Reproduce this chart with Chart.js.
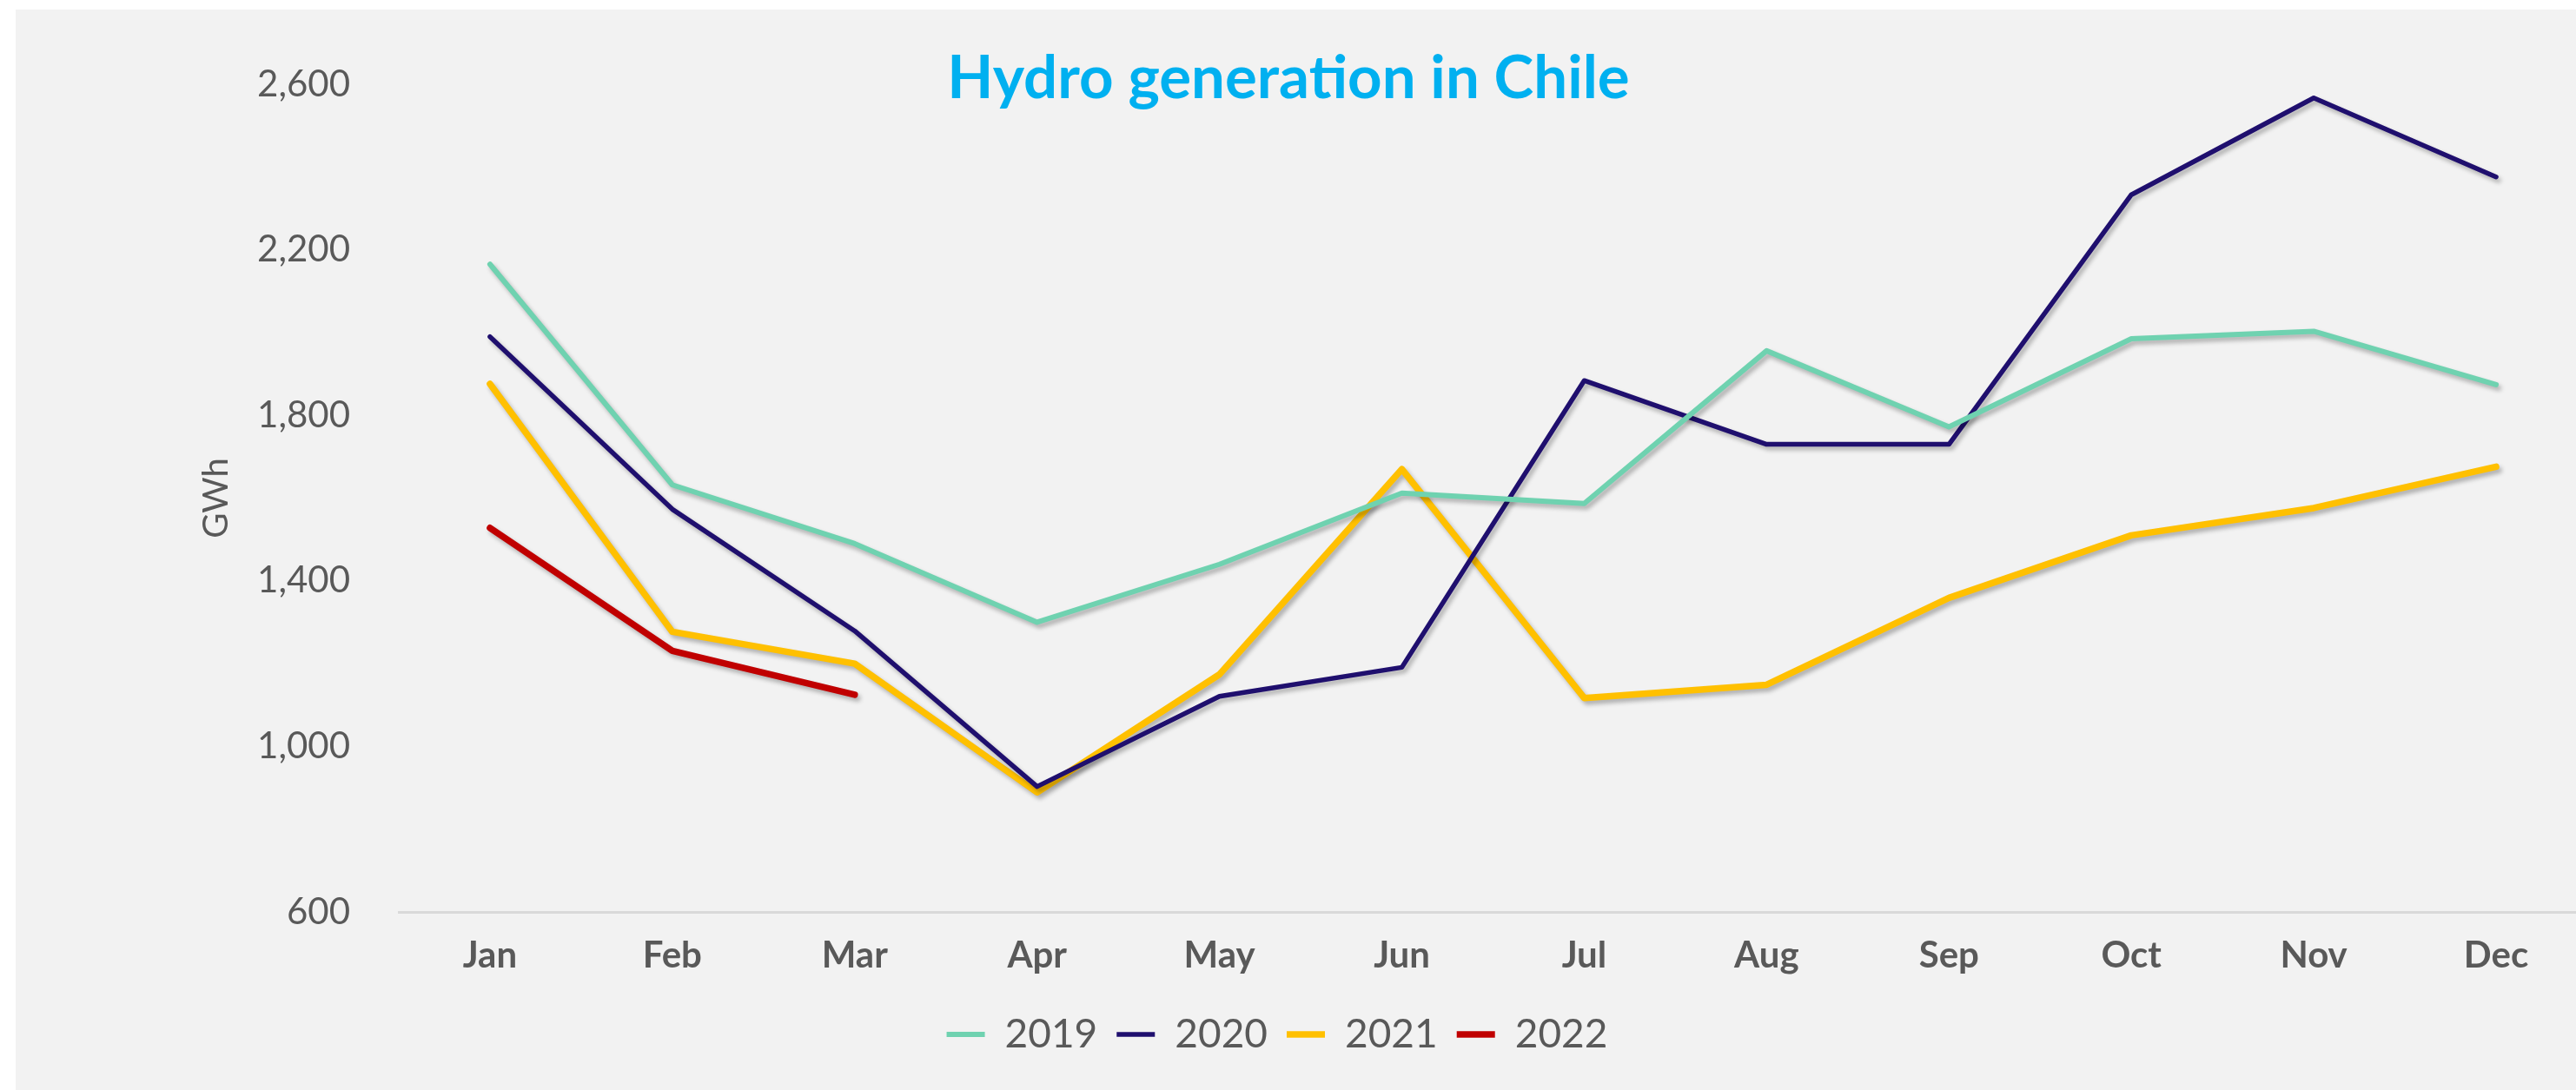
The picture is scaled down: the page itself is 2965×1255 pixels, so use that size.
<!DOCTYPE html>
<html>
<head>
<meta charset="utf-8">
<title>Hydro generation in Chile</title>
<script src="https://cdn.jsdelivr.net/npm/chart.js@4.4.1/dist/chart.umd.min.js"></script>
<style>
  html, body { margin: 0; padding: 0; background: #ffffff; overflow: hidden; }
  canvas { display: block; }
</style>
</head>
<body>
<!-- canvas is a bit wider than the window: the original plot runs past the right edge -->
<canvas id="hydroChart" width="2978" height="1255"></canvas>
<script>
// Monthly hydro generation (GWh)
const months = ["Jan", "Feb", "Mar", "Apr", "May", "Jun", "Jul", "Aug", "Sep", "Oct", "Nov", "Dec"];
const gen2019 = [2165, 1632, 1490, 1300, 1440, 1612, 1587, 1956, 1772, 1985, 2003, 1874];
const gen2020 = [1990, 1573, 1279, 903, 1121, 1191, 1884, 1730, 1730, 2333, 2567, 2376];
const gen2021 = [1876, 1277, 1200, 889, 1174, 1670, 1117, 1149, 1359, 1510, 1576, 1676];
const gen2022 = [1528, 1231, 1125, null, null, null, null, null, null, null, null, null];
const yTicks = [600, 1000, 1400, 1800, 2200, 2600];

const textGrey = "#595959";

// grey panel behind the chart (white strip on top and left)
const panelBg = {
  id: "panelBg",
  beforeDraw(chart) {
    const { ctx, width, height } = chart;
    ctx.save();
    ctx.fillStyle = "#f2f2f2";
    ctx.fillRect(18, 11, width - 18, height - 11);
    ctx.restore();
  },
};

// soft drop shadow under the lines
const lineShadow = {
  id: "lineShadow",
  beforeDatasetsDraw(chart) {
    const ctx = chart.ctx;
    ctx.save();
    ctx.shadowColor = "rgba(0, 0, 0, 0.28)";
    ctx.shadowBlur = 5;
    ctx.shadowOffsetX = 3;
    ctx.shadowOffsetY = 4;
  },
  afterDatasetsDraw(chart) {
    chart.ctx.restore();
  },
};

// nudge the legend row a little to the left, like the original
const legendShift = {
  id: "legendShift",
  afterLayout(chart) {
    if (chart.legend) {
      chart.legend.left -= 28;
      chart.legend.right -= 28;
    }
  },
};

// title sits inside the plot area
const chartTitle = {
  id: "chartTitle",
  afterDraw(chart) {
    const ctx = chart.ctx;
    ctx.save();
    ctx.font = "bold 69px Lato";
    ctx.fillStyle = "#00b0f0";
    ctx.textAlign = "center";
    ctx.textBaseline = "alphabetic";
    ctx.fillText("Hydro generation in Chile", 1483, 113);
    ctx.restore();
  },
};

function series(label, data, color, width) {
  return {
    label: label,
    data: data,
    borderColor: color,
    backgroundColor: color,
    borderWidth: width,
    borderCapStyle: "round",
    borderJoinStyle: "round",
    pointRadius: 0,
    pointHoverRadius: 0,
    tension: 0,
    fill: false,
    spanGaps: false,
  };
}

const ctx = document.getElementById("hydroChart").getContext("2d");
new Chart(ctx, {
  type: "line",
  data: {
    labels: months,
    datasets: [
      series("2019", gen2019, "#6fd2b0", 6),
      series("2020", gen2020, "#1f0f6e", 5.5),
      series("2021", gen2021, "#ffc000", 7.5),
      series("2022", gen2022, "#c00000", 7.5),
    ],
  },
  options: {
    responsive: false,
    animation: false,
    devicePixelRatio: 1,
    layout: {
      padding: { top: 97, left: 18, right: 0, bottom: 31 },
    },
    plugins: {
      legend: {
        position: "bottom",
        labels: {
          usePointStyle: true,
          pointStyle: "line",
          pointStyleWidth: 44,
          padding: 22,
          color: textGrey,
          font: { family: "Lato", size: 46 },
        },
      },
      title: { display: false },
      tooltip: { enabled: false },
    },
    scales: {
      x: {
        offset: true,
        grid: { display: false, drawTicks: false },
        border: { display: true, color: "#d9d9d9", width: 3 },
        ticks: {
          padding: 25,
          color: textGrey,
          font: { family: "Lato", size: 42, weight: "bold" },
        },
        afterFit(scale) {
          scale.height = 96;
        },
      },
      y: {
        min: 600,
        max: 2600,
        grid: { display: false, drawTicks: false },
        border: { display: false },
        afterBuildTicks(scale) {
          scale.ticks = yTicks.map((v) => ({ value: v }));
        },
        ticks: {
          padding: 56,
          color: textGrey,
          font: { family: "Lato", size: 42 },
          callback: (value) => value.toLocaleString("en-US"),
        },
        title: {
          display: true,
          text: "GWh",
          color: textGrey,
          font: { family: "Lato", size: 40 },
          padding: { top: 207, bottom: 0 },
        },
        afterFit(scale) {
          scale.width = 441;
        },
      },
    },
  },
  plugins: [panelBg, lineShadow, legendShift, chartTitle],
});
</script>
</body>
</html>
